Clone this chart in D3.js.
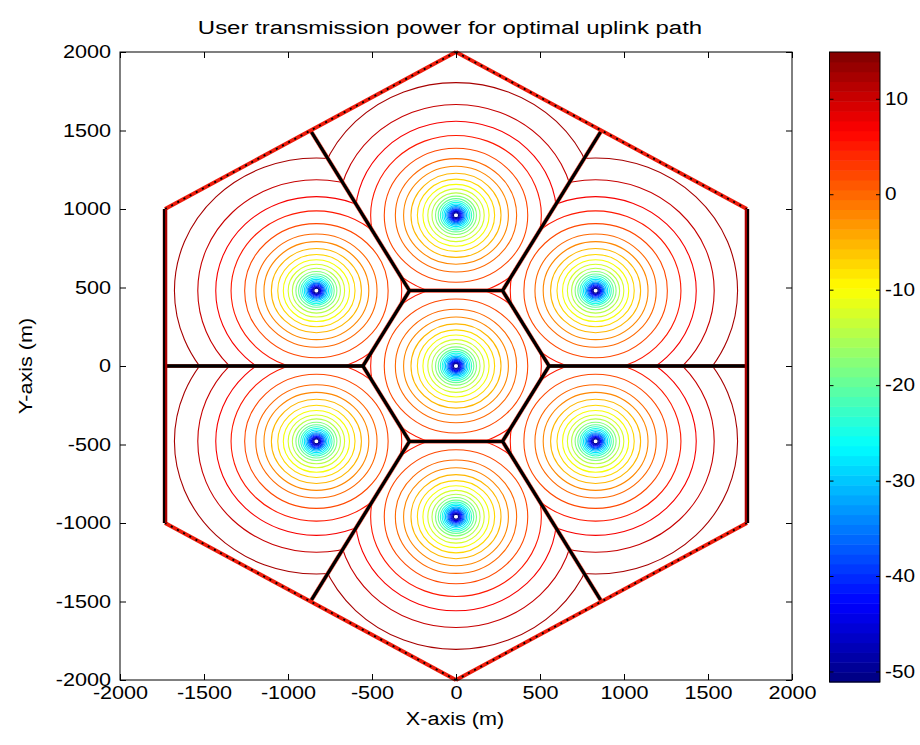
<!DOCTYPE html>
<html>
<head>
<meta charset="utf-8">
<script src="https://cdn.jsdelivr.net/npm/d3@7"></script>
<style>
body{margin:0;background:#fff}
text{font-family:"Liberation Sans",Arial,sans-serif;font-size:18px;fill:#000}
</style>
</head>
<body>
<svg id="chart" width="920" height="745"></svg>
<script>
// base stations (m)
let bsX = [0, 0, 831, 831, 0, -831, -831];
let bsY = [0, 960, 480, -480, -960, -480, 480];
// outer hexagon corners (m)
let hexX = [0, 1732, 1732, 0, -1732, -1732];
let hexY = [2000, 1000, -1000, -2000, -1000, 1000];
// contour level (dBm) and radius of that ring around its base station (m)
let levels = [12.5, 10, 7.5, 5, 2.5, 0, -2.5, -5, -7.5, -10, -12.5, -15, -17.5, -20, -22.5, -25, -27.5, -30, -32.5, -35, -37.5, -40, -42.5, -45, -47.5, -50];
let radii = [845, 706, 599, 508, 427, 361, 312, 268, 230, 197, 168, 143, 122, 106, 93, 82, 72, 63, 55, 48, 42, 36, 30, 25, 20, 15];
let xTicks = [-2000, -1500, -1000, -500, 0, 500, 1000, 1500, 2000];
let yTicks = [-2000, -1500, -1000, -500, 0, 500, 1000, 1500, 2000];
let cbTicks = [10, 0, -10, -20, -30, -40, -50];
let cbMin = -51.1, cbMax = 14.9;

let svg = d3.select("#chart");
let x = d3.scaleLinear().domain([-2000, 2000]).range([120, 792]);
let y = d3.scaleLinear().domain([-2000, 2000]).range([680, 52]);
let fmt = d => String(d);

// matlab jet, 64 steps
function jet(t) {
    let c = v => Math.max(0, Math.min(1, v));
    return d3.rgb(255 * c(1.5 - Math.abs(4 * t - 3)), 255 * c(1.5 - Math.abs(4 * t - 2)), 255 * c(1.5 - Math.abs(4 * t - 1))).toString();
}
let qIdx = d3.scaleQuantize().domain([cbMin, cbMax]).range(d3.range(64));
let color = v => jet((qIdx(v) + 0.5) / 64);

// stretch text a bit wider, the original font is broad
function stretch(sel, k) {
    sel.each(function () {
        let w = this.getComputedTextLength();
        d3.select(this).attr("textLength", w * k).attr("lengthAdjust", "spacingAndGlyphs");
    });
}

let hexPts = hexX.map((d, i) => [x(d), y(hexY[i])]);
let defs = svg.append("defs");
defs.append("clipPath").attr("id", "hex").append("polygon").attr("points", hexPts.join(" "));

// voronoi cells in data space (axes are not equal)
let pts = bsX.map((d, i) => [d, bsY[i]]);
let vor = d3.Delaunay.from(pts).voronoi([-2000, -2000, 2000, 2000]);
let cells = pts.map((p, i) => vor.cellPolygon(i).map(q => [x(q[0]), y(q[1])]));
cells.forEach((c, i) => {
    defs.append("clipPath").attr("id", "cell" + i).append("polygon").attr("points", c.join(" "));
});

let plot = svg.append("g").attr("clip-path", "url(#hex)");

// contour rings
pts.forEach((p, i) => {
    let g = plot.append("g").attr("clip-path", "url(#cell" + i + ")");
    g.selectAll("ellipse").data(levels).enter().append("ellipse")
        .attr("cx", x(p[0])).attr("cy", y(p[1]))
        .attr("rx", (d, j) => x(radii[j]) - x(0))
        .attr("ry", (d, j) => y(0) - y(radii[j]))
        .attr("fill", "none").attr("stroke", d => color(d)).attr("stroke-width", 1.1);
    g.append("rect").attr("x", x(p[0]) - 1.5).attr("y", y(p[1]) - 1.5)
        .attr("width", 3).attr("height", 3).attr("fill", "#fff");
});

// cell borders
plot.selectAll("polygon.cellred").data(cells).enter().append("polygon")
    .attr("points", d => d.join(" ")).attr("fill", "none")
    .attr("stroke", "#e8301a").attr("stroke-width", 4.2).attr("stroke-opacity", 0.55);
plot.selectAll("polygon.cell").data(cells).enter().append("polygon")
    .attr("points", d => d.join(" ")).attr("fill", "none")
    .attr("stroke", "#000").attr("stroke-width", 2.8);

// outer hexagon
let diag = [[0, 1], [2, 3], [3, 4], [5, 0]];
let side = [[1, 2], [4, 5]];
svg.selectAll("line.dg").data(diag).enter().append("line")
    .attr("x1", d => hexPts[d[0]][0]).attr("y1", d => hexPts[d[0]][1])
    .attr("x2", d => hexPts[d[1]][0]).attr("y2", d => hexPts[d[1]][1])
    .attr("stroke", "#ee1c0c").attr("stroke-width", 3.8);
svg.selectAll("line.dk").data(diag).enter().append("line")
    .attr("x1", d => hexPts[d[0]][0]).attr("y1", d => hexPts[d[0]][1])
    .attr("x2", d => hexPts[d[1]][0]).attr("y2", d => hexPts[d[1]][1])
    .attr("stroke", "#000").attr("stroke-width", 1.8).attr("stroke-dasharray", "2,5");
svg.selectAll("line.sd").data(side).enter().append("line")
    .attr("x1", d => hexPts[d[0]][0]).attr("y1", d => hexPts[d[0]][1])
    .attr("x2", d => hexPts[d[1]][0]).attr("y2", d => hexPts[d[1]][1])
    .attr("stroke", "#a80000").attr("stroke-width", 4.5);
svg.selectAll("line.sk").data(side).enter().append("line")
    .attr("x1", d => hexPts[d[0]][0] + (d[0] === 1 ? 1 : -1)).attr("y1", d => hexPts[d[0]][1])
    .attr("x2", d => hexPts[d[1]][0] + (d[0] === 1 ? 1 : -1)).attr("y2", d => hexPts[d[1]][1])
    .attr("stroke", "#000").attr("stroke-width", 2);

// axes, matlab box with inner ticks
svg.append("rect").attr("x", 120).attr("y", 52).attr("width", 672).attr("height", 628)
    .attr("fill", "none").attr("stroke", "#000").attr("stroke-width", 1);
let xb = svg.append("g").attr("transform", "translate(0,680)")
    .call(d3.axisBottom(x).tickValues(xTicks).tickSize(-6).tickPadding(6).tickFormat(fmt));
svg.append("g").attr("transform", "translate(0,52)")
    .call(d3.axisTop(x).tickValues(xTicks).tickSize(-6).tickFormat(""));
let yl = svg.append("g").attr("transform", "translate(120,0)")
    .call(d3.axisLeft(y).tickValues(yTicks).tickSize(-6).tickPadding(9).tickFormat(fmt));
svg.append("g").attr("transform", "translate(792,0)")
    .call(d3.axisRight(y).tickValues(yTicks).tickSize(-6).tickFormat(""));
svg.selectAll(".domain").remove();
svg.selectAll(".tick line").attr("stroke", "#000");
svg.selectAll(".tick text").style("font-size", "18px").attr("font-family", null);
stretch(xb.selectAll("text"), 1.2);
stretch(yl.selectAll("text"), 1.2);

// colorbar
let cy = d3.scaleLinear().domain([cbMin, cbMax]).range([682, 52]);
let bands = d3.range(64);
let step = (cbMax - cbMin) / 64;
svg.selectAll("rect.cb").data(bands).enter().append("rect")
    .attr("x", 829.5).attr("width", 50.5)
    .attr("y", d => cy(cbMin + (d + 1) * step))
    .attr("height", d => cy(cbMin + d * step) - cy(cbMin + (d + 1) * step) + 0.5)
    .attr("fill", d => jet((d + 0.5) / 64));
svg.append("rect").attr("x", 829.5).attr("y", 52).attr("width", 50.5).attr("height", 630)
    .attr("fill", "none").attr("stroke", "#000").attr("stroke-width", 1);
let cb = svg.append("g").attr("transform", "translate(880,0)")
    .call(d3.axisRight(cy).tickValues(cbTicks).tickSize(-4).tickPadding(5).tickFormat(fmt));
svg.append("g").attr("transform", "translate(829.5,0)")
    .call(d3.axisLeft(cy).tickValues(cbTicks).tickSize(-4).tickFormat(""));
svg.selectAll(".domain").remove();
svg.selectAll(".tick line").attr("stroke", "#000");
cb.selectAll("text").style("font-size", "18px").attr("font-family", null);
stretch(cb.selectAll("text"), 1.15);

// titles
let t = svg.append("text").attr("x", 450).attr("y", 34).attr("text-anchor", "middle")
    .text("User transmission power for optimal uplink path");
let xt = svg.append("text").attr("x", 455).attr("y", 725).attr("text-anchor", "middle").text("X-axis (m)");
let yt = svg.append("text").attr("transform", "translate(32,366) rotate(-90)").attr("text-anchor", "middle").text("Y-axis (m)");
stretch(t, 1.33);
stretch(xt, 1.2);
stretch(yt, 1.2);
</script>
</body>
</html>
